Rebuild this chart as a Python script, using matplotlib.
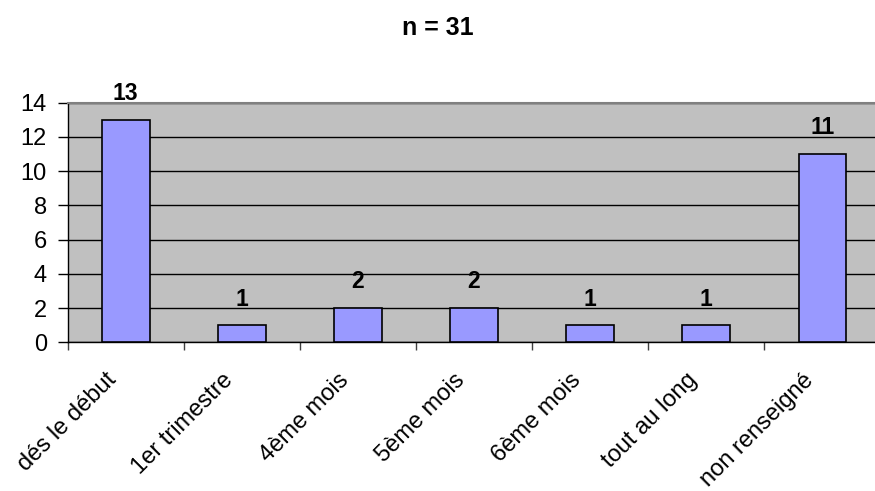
import matplotlib
matplotlib.use("Agg")
import matplotlib.pyplot as plt
import matplotlib.transforms as mtransforms
import numpy as np

categories = ["dés le début", "1er trimestre", "4ème mois", "5ème mois",
              "6ème mois", "tout au long", "non renseigné"]
values = [13, 1, 2, 2, 1, 1, 11]
yticks = [0, 2, 4, 6, 8, 10, 12, 14]
title = "n = 31"

plt.rcParams['font.family'] = ['Liberation Sans', 'DejaVu Sans']

fig = plt.figure(figsize=(8.75, 4.91), dpi=100)
ax = fig.add_axes([67.7/875, 148.7/491, 812.7/875, 239.6/491])
ax.set_facecolor('#C0C0C0')

x = np.arange(len(categories))
bars = ax.bar(x, values, width=0.41, color='#9999FF', edgecolor='black',
              linewidth=1.2, zorder=3)
for xi, v in zip(x, values):
    ax.annotate(str(v), (xi, v), xytext=(0, 10.5), textcoords='offset points',
                ha='center', va='bottom', fontsize=16.5, fontweight='bold',
                zorder=4, annotation_clip=False)

ax.set_xlim(-0.5, len(categories) - 0.5)
ax.set_ylim(0, 14)
ax.set_yticks(yticks)
ax.yaxis.grid(True, color='black', linewidth=1, zorder=1)
ax.set_axisbelow(True)
ax.tick_params(axis='y', direction='out', length=7, width=1, labelsize=17, pad=8)

ax.set_xticks(np.arange(len(categories) + 1) - 0.5)
ax.set_xticklabels([])
ax.tick_params(axis='x', which='major', direction='out', length=6, width=1,
               color='#404040')
ax.set_xticks(x, minor=True)
ax.set_xticklabels(categories, minor=True, rotation=45, ha='right',
                   va='baseline', rotation_mode='anchor', fontsize=17)
ax.tick_params(axis='x', which='minor', length=0, pad=28)
offset = mtransforms.ScaledTranslation(-8/100, 0, fig.dpi_scale_trans)
for lbl in ax.get_xticklabels(minor=True):
    lbl.set_transform(lbl.get_transform() + offset)

for s in ['left', 'bottom']:
    ax.spines[s].set_color('black')
    ax.spines[s].set_linewidth(1)
ax.spines['top'].set_color('#808080')
ax.spines['top'].set_linewidth(1.5)
ax.spines['right'].set_visible(False)

fig.text(0.5, 1 - 28/491, title, ha='center', va='center', fontsize=18,
         fontweight='bold')

fig.savefig('out.png', dpi=100)
